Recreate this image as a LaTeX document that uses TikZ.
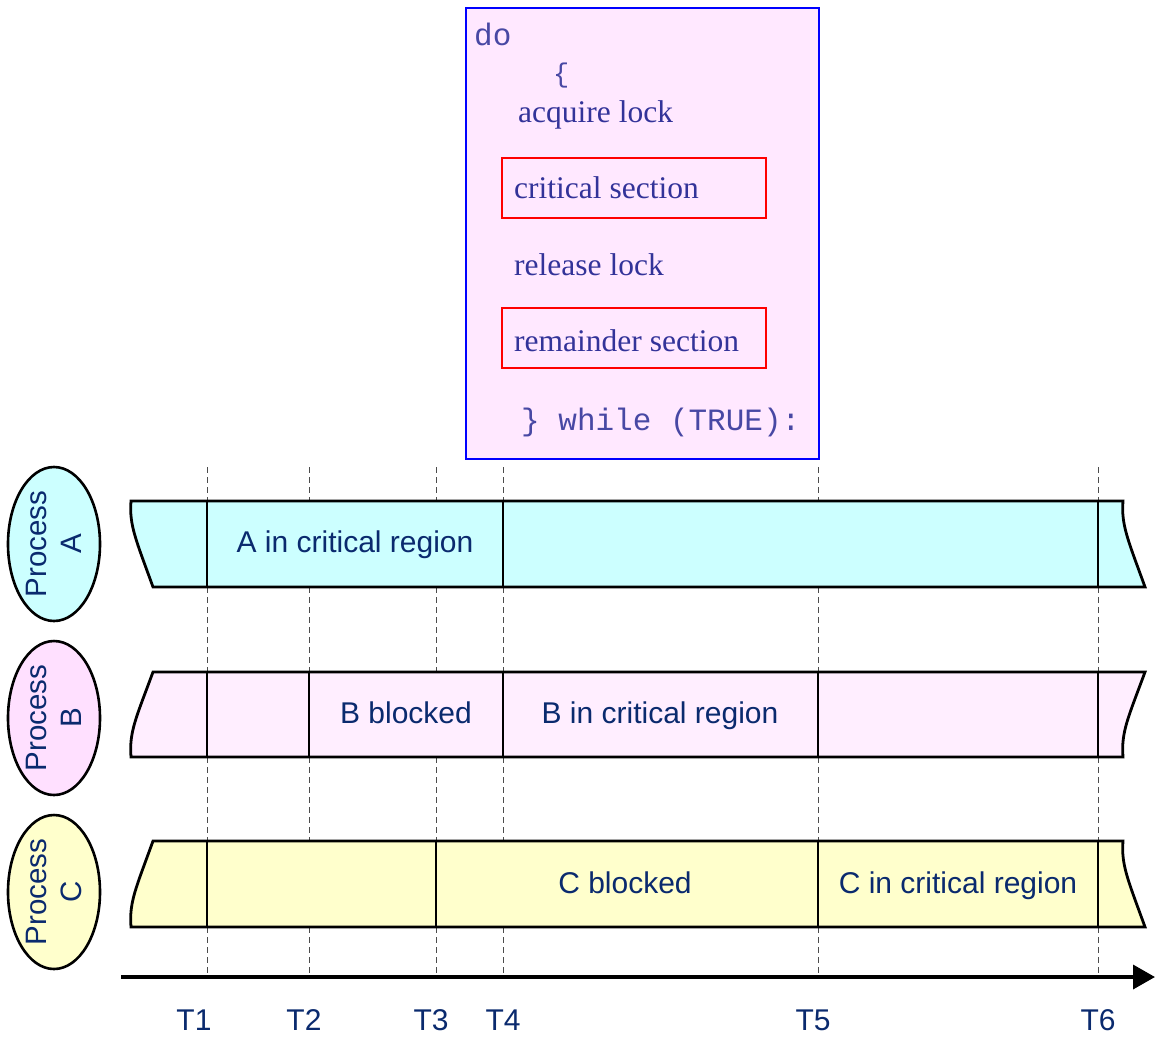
\documentclass[tikz,border=0pt]{standalone}
\usepackage{fontspec}
\setmainfont{Liberation Serif}
\setsansfont{Liberation Sans}
\setmonofont{Liberation Mono}
\usetikzlibrary{shapes.geometric,arrows.meta}
\definecolor{cyanfill}{HTML}{CCFFFF}
\definecolor{pinkband}{HTML}{FFEEFF}
\definecolor{pinkell}{HTML}{FFE0FF}
\definecolor{codefill}{HTML}{FFE8FF}
\definecolor{yellowfill}{HTML}{FFFFCC}
\definecolor{navytext}{HTML}{0A2A6E}
\definecolor{codetext}{HTML}{333399}
\definecolor{monotext}{HTML}{4848A4}
\tikzset{
  bandline/.style={line width=2.8pt, draw=black},
  divline/.style={line width=2.7pt, draw=black},
  guide/.style={line width=0.9pt, draw=black!70, dash pattern=on 6pt off 4pt},
  proc/.style={ellipse, draw=black, line width=2.6pt, rotate=90, minimum width=154pt, minimum height=92pt, inner sep=0pt, align=center, text=navytext, font=\sffamily\fontsize{29.5}{35}\selectfont},
  bandlabel/.style={anchor=base, inner sep=0pt, text=navytext, font=\sffamily\fontsize{30}{36}\selectfont},
  tlabel/.style={anchor=base, inner sep=0pt, text=navytext, font=\sffamily\fontsize{30}{36}\selectfont},
  serifcode/.style={anchor=base west, inner sep=0pt, text=codetext, font=\rmfamily\fontsize{31.5}{36}\selectfont},
  monocode/.style={anchor=base west, inner sep=0pt, text=monotext, font=\ttfamily\fontsize{31}{36}\selectfont},
  redbox/.style={draw=red, line width=1.8pt},
}
\begin{document}
\begin{tikzpicture}[x=1pt,y=-1pt]
\useasboundingbox (0,0) rectangle (1155,1037);
% code box
\node[draw=blue, line width=2.2pt, fill=codefill, minimum width=353pt, minimum height=451pt, inner sep=0pt, anchor=north west] (code) at (464.5,6.5) {};
\node[redbox, minimum width=264pt, minimum height=60pt, inner sep=0pt, anchor=north west] (crit) at (501,157) {};
\node[redbox, minimum width=264pt, minimum height=60pt, inner sep=0pt, anchor=north west] (rem) at (501,307) {};
\node[monocode] (do) at (474,45) {do};
\node[monocode, font=\ttfamily\fontsize{27}{32}\selectfont] (brace) at (553,82) {\{};
\node[serifcode] (acq) at (518,122) {acquire lock};
\node[serifcode] (cs) at (514,198) {critical section};
\node[serifcode] (rel) at (514,275) {release lock};
\node[serifcode] (rs) at (514,351) {remainder section};
\node[monocode] (wh) at (521,430) {\} while (TRUE):};
% guides
\foreach \x in {207,309,436,503,818,1098} \draw[guide] (\x,467) -- (\x,975);
% band A
\draw[bandline, fill=cyanfill] (131,501) -- (1123,501) .. controls (1121,525) and (1128,540) .. (1145,587) -- (153,587) .. controls (136,540) and (129,525) .. (131,501) -- cycle;
% band B
\draw[bandline, fill=pinkband] (153,672) -- (1145,672) .. controls (1128,718) and (1121,732) .. (1123,757) -- (131,757) .. controls (129,732) and (136,718) .. (153,672) -- cycle;
% band C
\draw[bandline, fill=yellowfill] (153,841) -- (1123,841) .. controls (1121,865) and (1128,880) .. (1145,927) -- (131,927) .. controls (129,902) and (136,888) .. (153,841) -- cycle;
% dividers
\foreach \x in {207,503,1098} \draw[divline] (\x,501) -- (\x,587);
\foreach \x in {207,309,503,818,1098} \draw[divline] (\x,672) -- (\x,757);
\foreach \x in {207,436,818,1098} \draw[divline] (\x,841) -- (\x,927);
% labels
\node[bandlabel] (la) at (355,552) {A in critical region};
\node[bandlabel] (lb1) at (406,723) {B blocked};
\node[bandlabel] (lb2) at (660,723) {B in critical region};
\node[bandlabel] (lc1) at (625,893) {C blocked};
\node[bandlabel] (lc2) at (958,893) {C in critical region};
% processes
\node[proc, fill=cyanfill] (pa) at (54,544) {Process\\A};
\node[proc, fill=pinkell] (pb) at (54,718) {Process\\B};
\node[proc, fill=yellowfill] (pc) at (54,892) {Process\\C};
% axis
\coordinate (axs) at (121,977);
\coordinate (axe) at (1155,977);
\draw[line width=3.6pt, -{Triangle[length=22pt,width=24pt]}] (axs) -- (axe);
\node[tlabel] (t1) at (194,1030) {T1};
\node[tlabel] (t2) at (304,1030) {T2};
\node[tlabel] (t3) at (431,1030) {T3};
\node[tlabel] (t4) at (503,1030) {T4};
\node[tlabel] (t5) at (813,1030) {T5};
\node[tlabel] (t6) at (1098,1030) {T6};
\end{tikzpicture}
\end{document}
